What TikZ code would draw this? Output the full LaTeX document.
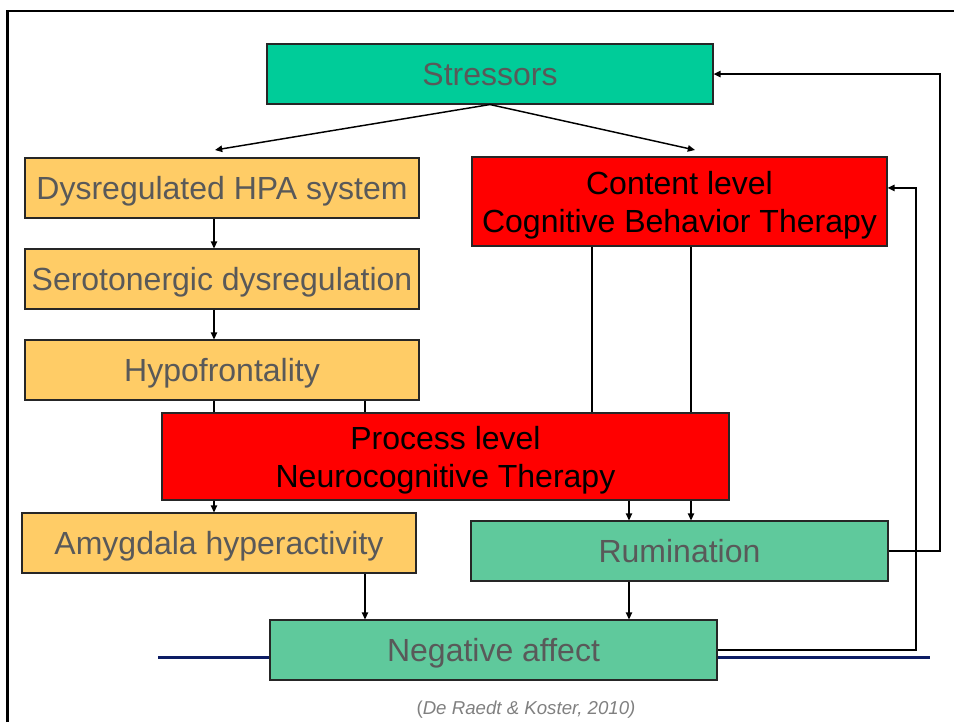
\documentclass[tikz,border=0pt]{standalone}
\usepackage{fontspec}
\setmainfont{Liberation Sans}
\usetikzlibrary{arrows.meta,calc}

\definecolor{stressgreen}{RGB}{0,204,153}
\definecolor{softgreen}{RGB}{95,201,156}
\definecolor{amber}{RGB}{255,204,102}
\definecolor{boxred}{RGB}{255,0,0}
\definecolor{labelgray}{RGB}{89,89,89}
\definecolor{citegray}{RGB}{128,128,128}
\definecolor{navyrule}{RGB}{12,28,100}

\tikzset{
  boxfont/.style={font=\fontsize{24}{28.5}\selectfont},
  box/.style 2 args={draw=black!85, line width=0.8pt, inner sep=0pt,
    minimum width=#1*0.75pt, minimum height=#2*0.75pt, boxfont},
  oneline/.style={text height=17.2pt, text depth=0pt},
  graybox/.style={text=labelgray},
  redbox/.style={fill=boxred},
  redtext/.style={boxfont, text=black, align=center, inner sep=0pt},
  link/.style={draw=black, line width=1.1pt},
  arr/.style={link, -{Triangle[length=5.4pt,width=4.8pt]}},
  loopline/.style={draw=black, line width=1.6pt, line join=miter},
  looparr/.style={loopline, -{Triangle[length=5.4pt,width=4.8pt]}},
  navy/.style={draw=navyrule, line width=2.2pt},
  frame/.style={draw=black, line width=1.9pt}
}

\begin{document}
\begin{tikzpicture}[x=0.75pt,y=-0.75pt]
\useasboundingbox (0,0) rectangle (954,722);

% slide frame
\coordinate (frBL) at (7.5,722);
\coordinate (frTL) at (7.5,11);
\coordinate (frTR) at (954,11);
\draw[frame] (frBL) -- (frTL) -- (frTR);

% connector columns
\coordinate (colA) at (214,0);
\coordinate (colB) at (365,0);
\coordinate (colC) at (592,0);
\coordinate (colD) at (691,0);
\coordinate (colE) at (629,0);
\coordinate (loopA) at (940,0);
\coordinate (loopB) at (916,0);
\coordinate (tipL) at (215,150);
\coordinate (tipR) at (695,150);
\coordinate (ruleL) at (158,657.5);
\coordinate (ruleR) at (930,657.5);

% boxes
\node[box={446}{60}, oneline, graybox, fill=stressgreen] (stress) at (490,74) {Stressors};
\node[box={394}{60}, oneline, graybox, fill=amber] (hpa) at (222,188) {Dysregulated HPA system};
\node[box={394}{60}, oneline, graybox, fill=amber] (sero) at (222,279) {Serotonergic dysregulation};
\node[box={394}{60}, oneline, graybox, fill=amber] (hypo) at (222,370) {Hypofrontality};
\node[box={415}{89}, redbox] (content) at (679.5,201.5) {};
\node[redtext] (contentText) at ([yshift=-3pt]content.center) {Content level\\Cognitive Behavior Therapy};
\node[box={567}{87}, redbox] (process) at (445.5,456.5) {};
\node[redtext] (processText) at ([yshift=-3pt]process.center) {Process level\\Neurocognitive Therapy};
\node[box={394}{60}, oneline, graybox, fill=amber] (amyg) at (219,543) {Amygdala hyperactivity};
\node[box={417}{60}, oneline, graybox, fill=softgreen] (rum) at (679.5,551) {Rumination};

% blue rule behind the negative affect box
\draw[navy] (ruleL) -- (ruleR);
\node[box={447}{60}, oneline, graybox, fill=softgreen] (neg) at (493.5,650) {Negative affect};

% stressors split
\draw[arr] (stress.south) -- (tipL);
\draw[arr] (stress.south) -- (tipR);

% biological chain
\draw[arr] (hpa.south -| colA) -- (sero.north -| colA);
\draw[arr] (sero.south -| colA) -- (hypo.north -| colA);
\draw[link] (hypo.south -| colA) -- (process.north -| colA);
\draw[link] (hypo.south -| colB) -- (process.north -| colB);
\draw[arr] (process.south -| colA) -- (amyg.north -| colA);
\draw[arr] (amyg.south -| colB) -- (neg.north -| colB);

% cognitive chain
\draw[link] (content.south -| colC) -- (process.north -| colC);
\draw[link] (content.south -| colD) -- (process.north -| colD);
\draw[arr] (process.south -| colE) -- (rum.north -| colE);
\draw[arr] (process.south -| colD) -- (rum.north -| colD);
\draw[arr] (rum.south -| colE) -- (neg.north -| colE);

% feedback loops
\draw[looparr] (rum.east) -- (rum.east -| loopA) -- (stress.east -| loopA) -- (stress.east);
\coordinate (contentIn) at ($(content.north east)!0.35!(content.south east)$);
\draw[looparr] (neg.east) -- (neg.east -| loopB) -- (contentIn -| loopB) -- (contentIn);

% citation
\node[text=citegray, font=\fontsize{14}{16}\selectfont, inner sep=0pt] (cite) at (526,710)
  {(\textit{De Raedt \& Koster, 2010)}};
\end{tikzpicture}
\end{document}
